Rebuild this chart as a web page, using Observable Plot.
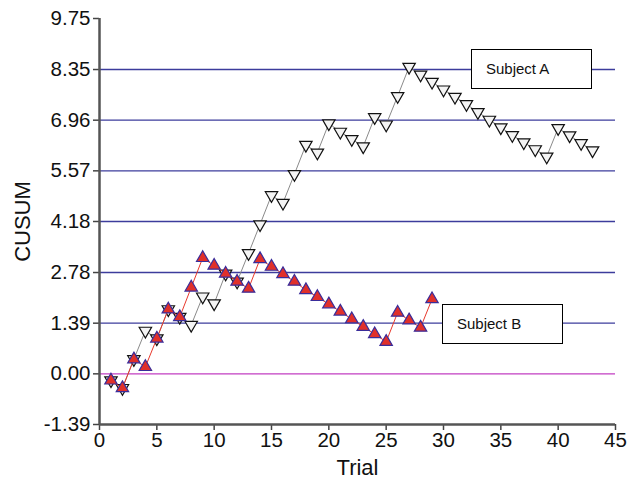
<!DOCTYPE html>
<html>
<head>
<meta charset="utf-8">
<script src="https://cdn.jsdelivr.net/npm/d3@7"></script>
<script src="https://cdn.jsdelivr.net/npm/@observablehq/plot@0.6"></script>
<style>
  html, body { margin: 0; padding: 0; background: #fff; }
  #wrap { position: relative; width: 627px; height: 484px; font-family: "Liberation Sans", Arial, sans-serif; }
  .box { position: absolute; border: 1px solid #000; background: #fff; width: 121px; height: 40px;
         box-sizing: border-box; font-size: 15px; line-height: 38px; padding-left: 14px; color: #111; }
</style>
</head>
<body>
<div id="wrap"></div>
<script>
const trials = d3.range(1, 44);
const subjectA = [-0.18, -0.39, 0.40, 1.18, 0.97, 1.77, 1.56, 1.34, 2.12, 1.93,
  2.75, 2.53, 3.31, 4.10, 4.90, 4.69, 5.48, 6.28, 6.07, 6.87,
  6.64, 6.44, 6.24, 7.04, 6.84, 7.62, 8.42, 8.21, 8.01, 7.80,
  7.60, 7.40, 7.18, 6.97, 6.76, 6.55, 6.35, 6.16, 5.96, 6.74,
  6.54, 6.33, 6.13];
const subjectB = [-0.18, -0.39, 0.40, 0.19, 0.97, 1.77, 1.56, 2.37, 3.18, 2.97,
  2.75, 2.53, 2.34, 3.15, 2.94, 2.74, 2.53, 2.30, 2.11, 1.91,
  1.71, 1.50, 1.29, 1.09, 0.88, 1.68, 1.47, 1.27, 2.05];
const yTicks = [-1.39, 0.00, 1.39, 2.78, 4.18, 5.57, 6.96, 8.35, 9.75];
const xTicks = [0, 5, 10, 15, 20, 25, 30, 35, 40, 45];
const gridLines = [1.39, 2.78, 4.18, 5.57, 6.96, 8.35];
const legendLabels = ["Subject A", "Subject B"];

const dataA = subjectA.map((v, i) => ({trial: trials[i], value: v}));
const dataB = subjectB.map((v, i) => ({trial: trials[i], value: v}));

const chart = Plot.plot({
  width: 627,
  height: 484,
  marginLeft: 99,
  marginRight: 12,
  marginTop: 18,
  marginBottom: 60,
  style: {fontFamily: "'Liberation Sans', Arial, sans-serif", background: "#fff", color: "#111"},
  x: {domain: [0, 45]},
  y: {domain: [-1.39, 9.75]},
  marks: [
    Plot.ruleY(gridLines, {stroke: "#3c3c9c", strokeWidth: 1.3}),
    Plot.ruleY([0], {stroke: "#c23ec2", strokeWidth: 1.3}),
    Plot.axisX({ticks: xTicks, tickSize: 6, tickPadding: 2, fontSize: 20.5, label: null, stroke: "#444", strokeWidth: 1.5}),
    Plot.axisY({ticks: yTicks, tickSize: 6, tickPadding: 3, fontSize: 20.5, label: null, tickFormat: d => d.toFixed(2), stroke: "#444", strokeWidth: 1.5}),
    Plot.ruleX([0], {stroke: "#555", strokeWidth: 2.5}),
    Plot.ruleY([-1.39], {stroke: "#555", strokeWidth: 2.5}),
    Plot.line(dataA, {x: "trial", y: "value", stroke: "#8a8a8a", strokeWidth: 1}),
    Plot.dot(dataA, {x: "trial", y: "value", symbol: "triangle", rotate: 180, r: 4.6, fill: "#f4f4f4", stroke: "#111", strokeWidth: 1.2}),
    Plot.line(dataB, {x: "trial", y: "value", stroke: "#e8382c", strokeWidth: 1}),
    Plot.dot(dataB, {x: "trial", y: "value", symbol: "triangle", r: 4.6, fill: "#e0302a", stroke: "#3a2d9a", strokeWidth: 1.2}),
    Plot.text(["CUSUM"], {frameAnchor: "left", dx: -77, rotate: -90, textAnchor: "middle", lineAnchor: "middle", fontSize: 22, fill: "#111"}),
    Plot.text(["Trial"], {frameAnchor: "bottom", dy: 43, textAnchor: "middle", lineAnchor: "middle", fontSize: 22, fill: "#111"})
  ]
});

const wrap = document.getElementById("wrap");
wrap.appendChild(chart);
const boxA = document.createElement("div");
boxA.className = "box"; boxA.textContent = legendLabels[0];
boxA.style.left = "471px"; boxA.style.top = "49px";
const boxB = document.createElement("div");
boxB.className = "box"; boxB.textContent = legendLabels[1];
boxB.style.left = "442px"; boxB.style.top = "304px";
wrap.appendChild(boxA); wrap.appendChild(boxB);
</script>
</body>
</html>
